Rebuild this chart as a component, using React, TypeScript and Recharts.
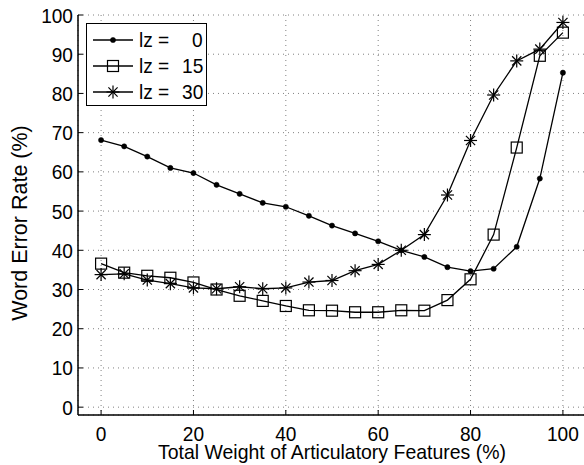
import React from 'react';
import { LineChart, Line, XAxis, YAxis, CartesianGrid, Legend, Label } from 'recharts';

const weights = [0, 5, 10, 15, 20, 25, 30, 35, 40, 45, 50, 55, 60, 65, 70, 75, 80, 85, 90, 95, 100];
const lz0 = [68.1, 66.5, 63.9, 61.0, 59.7, 56.7, 54.4, 52.1, 51.1, 48.8, 46.3, 44.3, 42.3, 40.0, 38.3, 35.7, 34.7, 35.3, 40.9, 58.3, 85.3];
const lz15 = [36.6, 34.3, 33.5, 33.0, 31.8, 30.0, 28.4, 27.1, 25.8, 24.7, 24.6, 24.2, 24.2, 24.7, 24.6, 27.3, 32.6, 44.0, 66.2, 89.6, 95.5];
const lz30 = [33.8, 34.0, 32.4, 31.5, 30.4, 30.2, 30.7, 30.2, 30.4, 31.9, 32.3, 34.8, 36.4, 40.0, 44.0, 54.1, 68.0, 79.6, 88.3, 91.3, 98.1];
const lzValues = ['0', '15', '30'];
const xTicks = [0, 20, 40, 60, 80, 100];
const yTicks = [0, 10, 20, 30, 40, 50, 60, 70, 80, 90, 100];
const xTitle = 'Total Weight of Articulatory Features (%)';
const yTitle = 'Word Error Rate (%)';

const data = weights.map((w, i) => ({ w, a: lz0[i], b: lz15[i], c: lz30[i] }));

const FONT = '"Liberation Sans", Arial, Helvetica, sans-serif';
const FS = 21;
const SX = 0.91;
const TICK = 5;

const SText = ({ x, y, anchor, size = FS, sx = SX, children }: any) => (
  <text
    transform={`translate(${x},${y}) scale(${sx},1)`}
    x={0}
    y={0}
    textAnchor={anchor}
    fontFamily={FONT}
    fontSize={size}
    fill="#000"
  >
    {children}
  </text>
);

const BottomTick = (p: any) => (
  <g>
    <line x1={p.x} y1={p.y} x2={p.x} y2={p.y - TICK} stroke="#000" strokeWidth={1} />
    <SText x={p.x} y={p.y + 26} anchor="middle">{p.payload.value}</SText>
  </g>
);
const TopTick = (p: any) => (
  <line x1={p.x} y1={p.y} x2={p.x} y2={p.y + TICK} stroke="#000" strokeWidth={1} />
);
const LeftTick = (p: any) => (
  <g>
    <line x1={p.x} y1={p.y} x2={p.x + TICK} y2={p.y} stroke="#000" strokeWidth={1} />
    <SText x={p.x - 5} y={p.y + 7.5} anchor="end">{p.payload.value}</SText>
  </g>
);
const RightTick = (p: any) => (
  <line x1={p.x} y1={p.y} x2={p.x - TICK} y2={p.y} stroke="#000" strokeWidth={1} />
);

const DotMarker = ({ cx, cy }: any) => <circle cx={cx} cy={cy} r={2.6} fill="#000" stroke="#000" strokeWidth={0.5} />;
const SquareMarker = ({ cx, cy }: any) => (
  <rect x={cx - 5.5} y={cy - 5.5} width={11} height={11} fill="none" stroke="#000" strokeWidth={1.2} />
);
const StarMarker = ({ cx, cy }: any) => {
  const s = 6.5;
  const d = 4.6;
  return (
    <g stroke="#000" strokeWidth={1.2}>
      <line x1={cx - s} y1={cy} x2={cx + s} y2={cy} />
      <line x1={cx} y1={cy - s} x2={cx} y2={cy + s} />
      <line x1={cx - d} y1={cy - d} x2={cx + d} y2={cy + d} />
      <line x1={cx - d} y1={cy + d} x2={cx + d} y2={cy - d} />
    </g>
  );
};

const markers = [DotMarker, SquareMarker, StarMarker];

const LegendBox = () => (
  <div
    style={{
      position: 'relative',
      width: 121,
      height: 83,
      boxSizing: 'border-box',
      border: '1.5px solid #000',
      background: '#fff',
      fontFamily: FONT,
      fontSize: FS,
    }}
  >
    {lzValues.map((v, i) => {
      const M = markers[i];
      const cy = 16 + 26 * i;
      return (
        <React.Fragment key={v}>
          <svg style={{ position: 'absolute', left: 5, top: cy - 8 }} width={42} height={16}>
            <line x1={1} y1={8} x2={41} y2={8} stroke="#000" strokeWidth={1.3} />
            <M cx={21} cy={8} />
          </svg>
          <span
            style={{
              position: 'absolute',
              left: 52,
              top: cy - 12,
              lineHeight: '24px',
              transform: `scaleX(${SX})`,
              transformOrigin: 'left center',
              whiteSpace: 'nowrap',
            }}
          >
            lz =
          </span>
          <span
            style={{
              position: 'absolute',
              right: 3,
              top: cy - 12,
              lineHeight: '24px',
              transform: `scaleX(${SX})`,
              transformOrigin: 'right center',
              whiteSpace: 'nowrap',
            }}
          >
            {v}
          </span>
        </React.Fragment>
      );
    })}
  </div>
);

const XTitle = (p: any) => {
  const vb = p.viewBox;
  return (
    <SText x={vb.x + vb.width / 2} y={vb.y + 44} anchor="middle" size={20.5} sx={0.95}>
      {xTitle}
    </SText>
  );
};
const YTitle = (p: any) => {
  const vb = p.viewBox;
  const x = 27;
  const y = vb.y + vb.height / 2 + 8;
  return (
    <text x={x} y={y} transform={`rotate(-90, ${x}, ${y})`} textAnchor="middle" fontFamily={FONT} fontSize={21.5} fill="#000">
      {yTitle}
    </text>
  );
};

export default function App() {
  return (
    <div style={{ position: 'absolute', left: 0, top: 0, width: 584, height: 465, overflow: 'hidden', background: '#fff' }}>
      <LineChart width={600} height={465} data={data} margin={{ top: 15, right: 14, bottom: 0, left: 0 }}>
        <CartesianGrid stroke="#808080" strokeDasharray="1 4" strokeWidth={1} />
        <XAxis
          dataKey="w"
          type="number"
          domain={[-5, 105]}
          ticks={xTicks}
          height={50}
          tickSize={0}
          tickMargin={0}
          tickLine={false}
          axisLine={{ stroke: '#000', strokeWidth: 1.5 }}
          tick={<BottomTick />}
          interval={0}
        >
          <Label content={<XTitle />} />
        </XAxis>
        <XAxis
          xAxisId="top"
          orientation="top"
          dataKey="w"
          type="number"
          domain={[-5, 105]}
          ticks={xTicks}
          height={0}
          tickSize={0}
          tickMargin={0}
          tickLine={false}
          axisLine={{ stroke: '#000', strokeWidth: 1.5 }}
          tick={<TopTick />}
          interval={0}
        />
        <YAxis
          type="number"
          domain={[-2, 100]}
          ticks={yTicks}
          width={78}
          tickSize={0}
          tickMargin={0}
          tickLine={false}
          axisLine={{ stroke: '#000', strokeWidth: 1.5 }}
          tick={<LeftTick />}
          interval={0}
        >
          <Label content={<YTitle />} />
        </YAxis>
        <YAxis
          yAxisId="right"
          orientation="right"
          type="number"
          domain={[-2, 100]}
          ticks={yTicks}
          width={0}
          tickSize={0}
          tickMargin={0}
          tickLine={false}
          axisLine={{ stroke: '#000', strokeWidth: 1.5 }}
          tick={<RightTick />}
          interval={0}
        />
        <Legend
          layout="horizontal"
          verticalAlign="middle"
          align="center"
          content={<LegendBox />}
          wrapperStyle={{ left: 86, top: 23, width: 121, height: 83 }}
        />
        <Line dataKey="a" name="lz = 0" stroke="#000" strokeWidth={1.3} isAnimationActive={false}
          dot={(p: any) => <DotMarker key={`a${p.index}`} cx={p.cx} cy={p.cy} />} activeDot={false} />
        <Line dataKey="b" name="lz = 15" stroke="#000" strokeWidth={1.3} isAnimationActive={false}
          dot={(p: any) => <SquareMarker key={`b${p.index}`} cx={p.cx} cy={p.cy} />} activeDot={false} />
        <Line dataKey="c" name="lz = 30" stroke="#000" strokeWidth={1.3} isAnimationActive={false}
          dot={(p: any) => <StarMarker key={`c${p.index}`} cx={p.cx} cy={p.cy} />} activeDot={false} />
      </LineChart>
    </div>
  );
}
